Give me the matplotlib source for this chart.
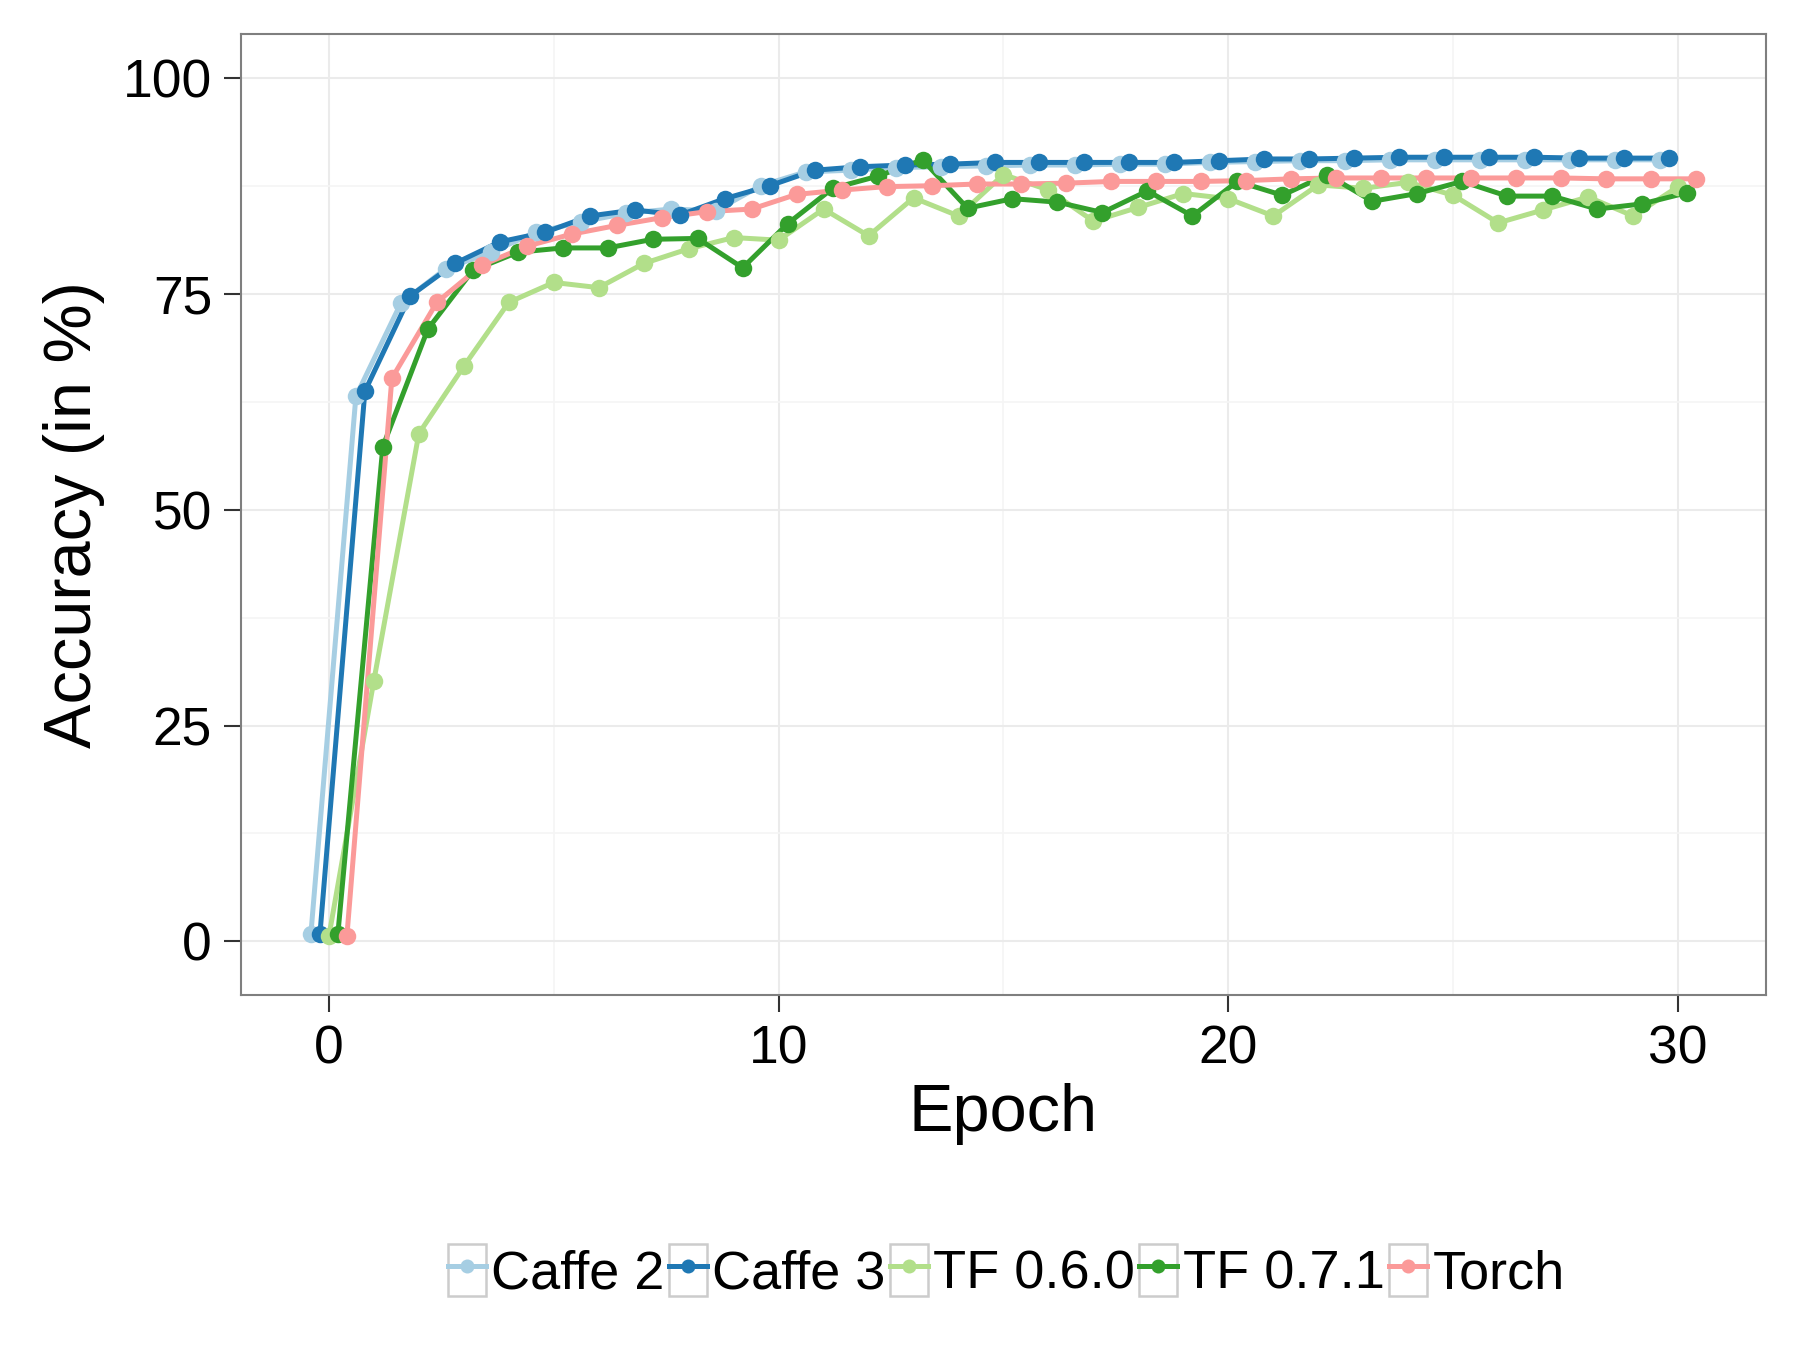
import numpy as np
import matplotlib
matplotlib.use("Agg")
import matplotlib.pyplot as plt
from matplotlib.patches import Rectangle
from matplotlib.lines import Line2D
from matplotlib.legend_handler import HandlerTuple

plt.rcParams['font.family'] = ['Liberation Sans', 'DejaVu Sans']

# Datos
epochs = np.arange(0, 31)
series = ["Caffe 2", "Caffe 3", "TF 0.6.0", "TF 0.7.1", "Torch"]
colors = ["#A6CEE3", "#1F78B4", "#B2DF8A", "#33A02C", "#FB9A99"]

caffe2 = [0.9, 63.1, 73.9, 77.9, 79.8, 82.1, 83.3, 84.3, 84.8, 84.6, 87.5,
          89.1, 89.3, 89.6, 89.7, 89.8, 89.9, 89.9, 90.0, 90.0, 90.2,
          90.3, 90.4, 90.4, 90.5, 90.5, 90.5, 90.5, 90.5, 90.5, 90.5]
caffe3 = [0.8, 63.7, 74.7, 78.5, 81.0, 82.1, 84.0, 84.7, 84.1, 86.0, 87.5,
          89.3, 89.7, 89.9, 90.0, 90.2, 90.2, 90.2, 90.2, 90.2, 90.4,
          90.6, 90.6, 90.7, 90.8, 90.8, 90.8, 90.8, 90.7, 90.7, 90.7]
tf060 = [0.6, 30.2, 58.8, 66.6, 74.0, 76.3, 75.7, 78.5, 80.2, 81.5, 81.2,
         84.8, 81.7, 86.1, 84.0, 88.8, 87.0, 83.4, 85.0, 86.6, 86.0,
         84.0, 87.6, 87.2, 87.9, 86.4, 83.2, 84.7, 86.2, 84.0, 87.4]
tf071 = [0.9, 57.3, 70.9, 77.7, 79.8, 80.3, 80.3, 81.3, 81.4, 78.0, 83.1,
         87.2, 88.6, 90.5, 84.9, 86.0, 85.6, 84.4, 86.9, 84.0, 88.0,
         86.4, 88.8, 85.7, 86.6, 88.0, 86.3, 86.3, 84.8, 85.4, 86.7]
torch = [0.6, 65.2, 74.0, 78.3, 80.5, 81.9, 82.9, 83.8, 84.5, 84.8, 86.5,
         87.0, 87.4, 87.5, 87.7, 87.7, 87.8, 88.0, 88.0, 88.0, 88.1,
         88.3, 88.4, 88.4, 88.4, 88.4, 88.4, 88.4, 88.3, 88.3, 88.3]

values = [caffe2, caffe3, tf060, tf071, torch]

# desplazamiento tipo position_dodge(0.8)
dodge = np.linspace(-0.4, 0.4, len(series))

fig = plt.figure(figsize=(6, 4.5), dpi=300)
ax = fig.add_axes([0.134, 0.263, 0.847, 0.712])

lw = 1.2
ms = 4.2
for k in range(len(series)):
    ax.plot(epochs + dodge[k], values[k], color=colors[k], lw=lw, zorder=2,
            solid_capstyle='round')
for k in range(len(series)):
    ax.plot(epochs + dodge[k], values[k], 'o', color=colors[k], ms=ms,
            markeredgewidth=0, zorder=3)

ax.set_xlim(-1.95, 31.95)
ax.set_ylim(-6.2, 105.1)
ax.set_xticks([0, 10, 20, 30])
ax.set_yticks([0, 25, 50, 75, 100])
ax.set_xticks([5, 15, 25], minor=True)
ax.set_yticks([12.5, 37.5, 62.5, 87.5], minor=True)
ax.grid(which='major', color='#EBEBEB', lw=0.5, zorder=0)
ax.grid(which='minor', color='#F5F5F5', lw=0.4, zorder=0)
ax.set_axisbelow(True)

for s in ax.spines.values():
    s.set_color('#7F7F7F')
    s.set_linewidth(0.5)

ax.tick_params(which='major', length=4, width=0.5, color='#333333',
               labelsize=12.8, labelcolor='black', pad=3)
ax.tick_params(which='minor', length=0)

fig.text(0.557, 0.175, "Epoch", ha='center', va='center', fontsize=16)
fig.text(0.041, 0.619, "Accuracy (in %)", ha='center', va='center',
         rotation=90, fontsize=16)

handles = []
for k in range(len(series)):
    box = Rectangle((0, 0), 1, 1, facecolor='white', edgecolor='#CCCCCC', lw=0.6)
    ln = Line2D([], [], color=colors[k], lw=lw, marker='o', ms=ms * 0.8,
                markeredgewidth=0)
    handles.append((box, ln))

fig.legend(handles, series, loc='center', bbox_to_anchor=(0.559, 0.058),
           ncol=len(series), frameon=False, fontsize=13,
           handler_map={tuple: HandlerTuple(ndivide=1)},
           handlelength=0.7, handleheight=1.1, handletextpad=0.1,
           columnspacing=0.08, borderaxespad=0)

fig.savefig("out.png", dpi=300)
